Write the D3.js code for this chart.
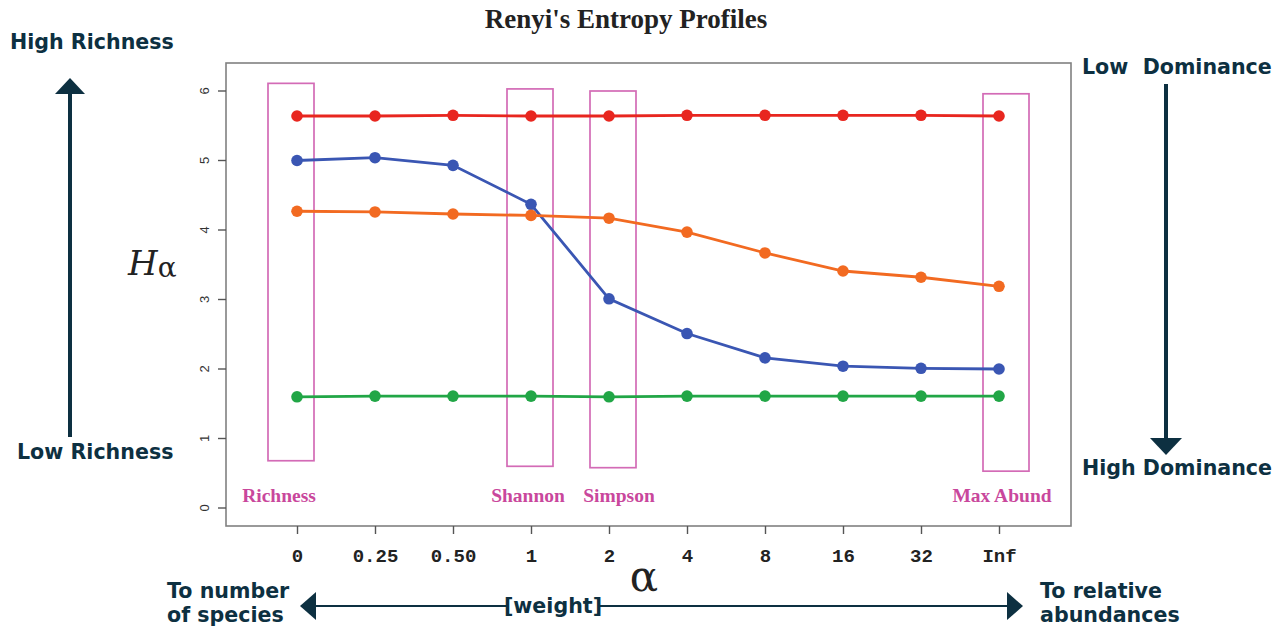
<!DOCTYPE html>
<html><head><meta charset="utf-8">
<script src="https://cdn.jsdelivr.net/npm/d3@7/dist/d3.min.js"></script>
<style>body{margin:0;background:#fff}svg{display:block}text{white-space:pre}</style>
</head><body>
<svg id="c" width="1283" height="630"></svg>
<script>
const alphaLabels = ["0","0.25","0.50","1","2","4","8","16","32","Inf"];
const redSeries    = [5.64,5.64,5.65,5.64,5.64,5.65,5.65,5.65,5.65,5.64];
const blueSeries   = [5.00,5.04,4.93,4.37,3.01,2.51,2.16,2.04,2.01,2.00];
const orangeSeries = [4.27,4.26,4.23,4.21,4.17,3.97,3.67,3.41,3.32,3.19];
const greenSeries  = [1.60,1.61,1.61,1.61,1.60,1.61,1.61,1.61,1.61,1.61];
const yTicks = [0,1,2,3,4,5,6];
const indexNames = ["Richness","Shannon","Simpson","Max Abund"];
const indexAlpha = ["0","1","2","Inf"];
const indexTop = [6.11,6.03,6.00,5.96];
const indexBottom = [0.68,0.60,0.58,0.53];

const svg = d3.select("#c");
const L=226,T=63,R=1071,B=526;
const x = d3.scalePoint().domain(alphaLabels).range([297,999]);
const y = d3.scaleLinear().domain([0,6]).range([508,91]);

// frame
svg.append("rect").attr("x",L).attr("y",T).attr("width",R-L).attr("height",B-T)
  .attr("fill","none").attr("stroke","#808080").attr("stroke-width",1.6);

// axes
const xa = svg.append("g").attr("transform",`translate(0,${B})`)
  .call(d3.axisBottom(x).tickSize(8).tickPadding(17));
xa.select(".domain").remove();
xa.selectAll("line").attr("stroke","#555").attr("stroke-width",1.4);
xa.selectAll("text").attr("font-family","Liberation Mono, monospace").attr("font-weight","bold")
  .attr("font-size",19).attr("fill","#222").attr("dy","0.6em");

const ya = svg.append("g").attr("transform",`translate(${L},0)`)
  .call(d3.axisLeft(y).tickValues(yTicks).tickSize(8).tickPadding(0).tickFormat(d3.format("d")));
ya.select(".domain").remove();
ya.selectAll("line").attr("stroke","#555").attr("stroke-width",1.4);
ya.selectAll("text").attr("font-family","Liberation Sans, Arial, sans-serif").attr("font-size",13)
  .attr("fill","#333").attr("text-anchor","middle").attr("dy",0)
  .attr("transform","rotate(-90)")
  .each(function(d){ d3.select(this).attr("x",-y(d)).attr("y",-17); });
ya.selectAll(".tick").each(function(d){
  d3.select(this).attr("transform",null);
  d3.select(this).select("line").attr("y1",y(d)).attr("y2",y(d));
});

// index boxes
const boxShift = [-6,-1,4,7];
const labelShift = [-18,-3,10,3];
indexNames.forEach((nm,i)=>{
  const cx = x(indexAlpha[i]) + boxShift[i];
  svg.append("rect").attr("x",cx-23).attr("y",y(indexTop[i]))
    .attr("width",46).attr("height",y(indexBottom[i])-y(indexTop[i]))
    .attr("fill","none").attr("stroke","#d36bb6").attr("stroke-width",1.7);
  svg.append("text").attr("x",x(indexAlpha[i])+labelShift[i]).attr("y",502)
    .attr("text-anchor","middle").attr("font-family","Liberation Serif, serif").attr("font-weight","bold")
    .attr("font-size",19.5).attr("fill","#c9479c").text(nm);
});

// series
const series = [
  {v:redSeries,c:"#e8261f"},
  {v:blueSeries,c:"#3a56b3"},
  {v:orangeSeries,c:"#f26a21"},
  {v:greenSeries,c:"#21a646"}
];
const line = d3.line().x((d,i)=>x(alphaLabels[i])).y(d=>y(d));
series.forEach(s=>{
  svg.append("path").datum(s.v).attr("d",line).attr("fill","none")
    .attr("stroke",s.c).attr("stroke-width",2.8);
  svg.selectAll(null).data(s.v).enter().append("circle")
    .attr("cx",(d,i)=>x(alphaLabels[i])).attr("cy",d=>y(d)).attr("r",5.8).attr("fill",s.c);
});

// title
svg.append("text").attr("x",626).attr("y",28).attr("text-anchor","middle")
  .attr("font-family","Liberation Serif, serif").attr("font-weight","bold").attr("font-size",27)
  .attr("fill","#222").text("Renyi's Entropy Profiles");

// axis labels
const yl = svg.append("text").attr("x",128).attr("y",275).attr("font-family","DejaVu Serif, serif")
  .attr("fill","#222");
yl.append("tspan").attr("font-style","italic").attr("font-size",34).text("H");
yl.append("tspan").attr("font-size",28).attr("dy",2).text("α");
svg.append("text").attr("x",644).attr("y",591).attr("text-anchor","middle")
  .attr("font-family","DejaVu Serif, serif").attr("font-size",42).attr("fill","#222").text("α");

// annotations
const navy = "#0d3041";
const ann = (t,xx,yy,anchor)=>svg.append("text").attr("x",xx).attr("y",yy).attr("text-anchor",anchor||"start")
  .attr("xml:space","preserve")
  .attr("font-family","DejaVu Sans, Verdana, sans-serif").attr("font-weight","bold").attr("font-size",20.6)
  .attr("fill",navy).text(t);
ann("High Richness",10,49);
ann("Low Richness",17,459);
ann("Low  Dominance",1082,74);
ann("High Dominance",1082,475);
ann("To number",167,598);
ann("of species",167,622);
ann("To relative",1040,598);
ann("abundances",1040,622);
ann("[weight]",553,613,"middle");

// arrows
svg.append("line").attr("x1",70).attr("y1",92).attr("x2",70).attr("y2",437).attr("stroke",navy).attr("stroke-width",4);
svg.append("path").attr("d","M55,94 L70,78 L85,94 Z").attr("fill",navy);
svg.append("line").attr("x1",1166).attr("y1",84).attr("x2",1166).attr("y2",440).attr("stroke",navy).attr("stroke-width",4);
svg.append("path").attr("d","M1150,438 L1166,455 L1182,438 Z").attr("fill",navy);
svg.append("line").attr("x1",312).attr("y1",606).attr("x2",508).attr("y2",606).attr("stroke",navy).attr("stroke-width",2);
svg.append("line").attr("x1",598).attr("y1",606).attr("x2",1010).attr("y2",606).attr("stroke",navy).attr("stroke-width",2);
svg.append("path").attr("d","M316,592 L300,606 L316,620 Z").attr("fill",navy);
svg.append("path").attr("d","M1007,592 L1023,606 L1007,620 Z").attr("fill",navy);
</script>
</body></html>
